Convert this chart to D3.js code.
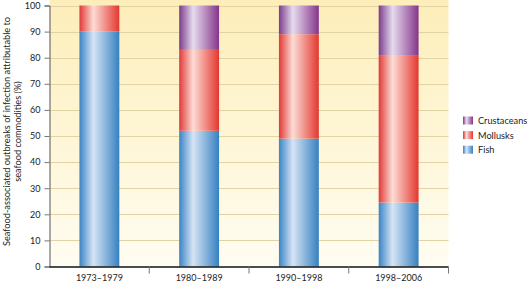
<!DOCTYPE html>
<html><head><meta charset="utf-8">
<script src="https://cdn.jsdelivr.net/npm/d3@7"></script>
<style>body{margin:0;background:#fff}svg{display:block}text{font-family:Lato,"Open Sans",sans-serif;fill:#222}</style>
</head><body>
<svg id="c" width="528" height="283"></svg>
<script>
const categories = ["1973–1979", "1980–1989", "1990–1998", "1998–2006"];
const fish = [90, 52, 49, 24.5];
const mollusks = [10, 31, 40, 56.5];
const crustaceans = [0, 17, 11, 19];
const seriesNames = ["Fish", "Mollusks", "Crustaceans"];
const yTicks = [0,10,20,30,40,50,60,70,80,90,100];

const svg = d3.select("#c");
const m = {l:49.5, r:448.5, t:5.5, b:266.5};
const x = d3.scaleBand().domain(categories).range([m.l, m.r]).paddingInner(0.6).paddingOuter(0.3);
const y = d3.scaleLinear().domain([0,100]).range([m.b, m.t]);
const FONT = "Lato,'Open Sans',sans-serif";

const defs = svg.append("defs");
const bg = defs.append("linearGradient").attr("id","bg").attr("x1",0).attr("x2",0).attr("y1",0).attr("y2",1);
bg.append("stop").attr("offset",0).attr("stop-color","#fdeeb9");
bg.append("stop").attr("offset",1).attr("stop-color","#fffdf2");
const cols = {
  Fish:["#3a84c5","#d6e4f5","#3581c1"],
  Mollusks:["#e03a38","#fcdcd5","#e3372f"],
  Crustaceans:["#7b3d8b","#e6dbee","#85358a"]
};
seriesNames.forEach(n=>{
  const g = defs.append("linearGradient").attr("id","g"+n).attr("x1",0).attr("x2",1).attr("y1",0).attr("y2",0);
  g.append("stop").attr("offset",0).attr("stop-color",cols[n][0]);
  g.append("stop").attr("offset",0.35).attr("stop-color",cols[n][1]);
  g.append("stop").attr("offset",1).attr("stop-color",cols[n][2]);
});

svg.append("rect").attr("x",m.l).attr("y",0).attr("width",m.r-m.l).attr("height",m.b).attr("fill","url(#bg)");

// gridlines
svg.append("g").selectAll("line").data(yTicks.filter(d=>d>0)).join("line")
  .attr("x1",m.l).attr("x2",m.r).attr("y1",d=>Math.round(y(d))+0.5).attr("y2",d=>Math.round(y(d))+0.5)
  .attr("stroke","#e2d3a6").attr("stroke-width",1);

// stacked bars
const table = categories.map((c,i)=>({cat:c, Fish:fish[i], Mollusks:mollusks[i], Crustaceans:crustaceans[i]}));
const stack = d3.stack().keys(seriesNames)(table);
svg.append("g").selectAll("g").data(stack).join("g")
  .attr("fill",s=>"url(#g"+s.key+")")
  .selectAll("rect").data(s=>s).join("rect")
  .attr("x",d=>x(d.data.cat)).attr("width",x.bandwidth())
  .attr("y",d=>y(d[1])).attr("height",d=>y(d[0])-y(d[1]));

// y axis
const ya = svg.append("g").attr("transform",`translate(${m.l},0)`)
  .call(d3.axisLeft(y).tickValues(yTicks).tickSize(5).tickPadding(4));
ya.select(".domain").attr("stroke","#555");
ya.selectAll(".tick line").attr("stroke","#777");
ya.selectAll("text").attr("font-size",9).attr("font-family",FONT).attr("fill","#222");

// x axis
const xa = svg.append("g").attr("transform",`translate(0,${m.b})`)
  .call(d3.axisBottom(x).tickSize(0).tickPadding(8));
xa.select(".domain").remove();
xa.selectAll("text").attr("font-size",9).attr("font-family",FONT).attr("fill","#222");
svg.append("line").attr("x1",m.l).attr("x2",m.r).attr("y1",m.b+0.5).attr("y2",m.b+0.5).attr("stroke","#111").attr("stroke-width",1.5);
const step = x.step();
svg.append("g").selectAll("line").data(categories).join("line")
  .attr("x1",d=>x(d)-x.paddingOuter()*step+step).attr("x2",d=>x(d)-x.paddingOuter()*step+step)
  .attr("y1",m.b).attr("y2",m.b+7).attr("stroke","#777");

// y label
const yl = svg.append("text").attr("transform",`translate(10,131.5) rotate(-90)`)
  .attr("text-anchor","middle").attr("font-size",9.2);
yl.append("tspan").attr("x",0).attr("dy",0).text("Seafood-associated outbreaks of infection attributable to");
yl.append("tspan").attr("x",0).attr("dy",11).text("seafood commodities (%)");

// legend
const leg = svg.append("g").attr("transform","translate(463,116.5)");
["Crustaceans","Mollusks","Fish"].forEach((n,i)=>{
  leg.append("rect").attr("x",0).attr("y",i*14.6).attr("width",10).attr("height",8).attr("fill","url(#g"+n+")");
  leg.append("text").attr("x",15).attr("y",i*14.6+7.5).attr("font-size",9.2).text(n);
});
</script>
</body></html>
